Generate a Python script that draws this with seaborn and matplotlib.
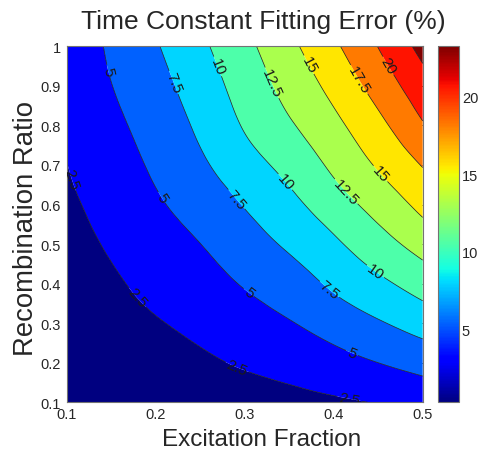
import numpy as np
import matplotlib
matplotlib.use("Agg")
import matplotlib.pyplot as plt
import matplotlib.tri as mtri
from matplotlib.cm import ScalarMappable
import seaborn as sns

# ---------------- data ----------------
excitation_fraction = [0.10, 0.15, 0.20, 0.25, 0.30, 0.35, 0.40, 0.45, 0.50]
recombination_ratio = [0.1, 0.2, 0.3, 0.4, 0.5, 0.6, 0.7, 0.8, 0.9, 1.0]

# fitting error (%) along each recombination-ratio row, one value per excitation fraction
err_r01 = [0.30, 0.55, 0.85, 1.15, 1.50, 1.85, 2.17, 2.62, 3.26]
err_r02 = [0.80, 1.15, 1.60, 2.12, 2.74, 3.31, 4.12, 5.00, 5.89]
err_r03 = [1.20, 1.70, 2.35, 3.07, 3.96, 4.85, 6.06, 7.27, 8.55]
err_r04 = [1.55, 2.20, 3.12, 4.03, 5.18, 6.36, 7.92, 9.46, 11.07]
err_r05 = [1.85, 2.75, 3.90, 4.98, 6.40, 7.87, 9.58, 11.50, 13.46]
err_r06 = [2.15, 3.30, 4.69, 6.03, 7.64, 9.34, 11.34, 13.44, 15.69]
err_r07 = [2.47, 3.85, 5.38, 7.08, 8.99, 10.79, 12.99, 15.27, 17.63]
err_r08 = [2.75, 4.40, 6.02, 7.96, 10.20, 12.21, 14.38, 16.86, 19.78]
err_r09 = [3.00, 4.95, 6.66, 8.73, 11.02, 13.34, 15.73, 18.50, 21.52]
err_r10 = [3.25, 5.35, 7.30, 9.50, 11.84, 14.40, 17.07, 20.06, 23.27]

contour_levels = [2.5, 5, 7.5, 10, 12.5, 15, 17.5, 20, 22.5]
fill_clim = (0.0, 22.5)          # colour range used for the filled bands
x_ticks = [0.1, 0.2, 0.3, 0.4, 0.5]
y_ticks = [0.1, 0.2, 0.3, 0.4, 0.5, 0.6, 0.7, 0.8, 0.9, 1.0]
cbar_ticks = [5, 10, 15, 20]

title_text = "Time Constant Fitting Error (%)"
x_label = "Excitation Fraction"
y_label = "Recombination Ratio"

# where the inline contour labels sit (data coordinates)
label_spots = [
    (0.147, 0.938), (0.216, 0.905), (0.267, 0.947), (0.328, 0.905),
    (0.370, 0.951), (0.426, 0.913), (0.458, 0.947),
    (0.104, 0.665), (0.207, 0.618), (0.291, 0.614), (0.345, 0.656),
    (0.413, 0.631), (0.452, 0.677),
    (0.177, 0.360), (0.302, 0.370), (0.394, 0.382), (0.446, 0.428),
    (0.291, 0.187), (0.420, 0.222), (0.418, 0.108),
]

# ---------------- style ----------------
sns.set_style("white")
plt.rcParams['font.family'] = ['Liberation Sans', 'DejaVu Sans']

Z = np.array([err_r01, err_r02, err_r03, err_r04, err_r05,
              err_r06, err_r07, err_r08, err_r09, err_r10])
X, Y = np.meshgrid(excitation_fraction, recombination_ratio)
ny, nx = Z.shape

# explicit triangles of the rectangular grid
tris = []
for j in range(ny - 1):
    for i in range(nx - 1):
        a = j * nx + i
        b = a + 1
        c = a + nx
        d = c + 1
        tris.append([a, b, d])
        tris.append([a, d, c])
triang = mtri.Triangulation(X.ravel(), Y.ravel(), np.array(tris))
refiner = mtri.UniformTriRefiner(triang)
tri_f, z_f = refiner.refine_field(Z.ravel(), subdiv=4)

vmin, vmax = float(Z.min()), float(Z.max())
cmap = matplotlib.colormaps['jet']
norm = plt.Normalize(vmin, vmax)
fill_norm = plt.Normalize(*fill_clim)

bounds = [min(z_f.min(), vmin) - 0.05] + contour_levels + [max(z_f.max(), vmax) + 0.05]
fill_colors = [cmap(fill_norm(v)) for v in [fill_clim[0]] + contour_levels]

fig = plt.figure(figsize=(4.82, 4.52), dpi=100)
ax = fig.add_axes([66.7 / 482, 1 - 403.3 / 452, 356 / 482, 356 / 452])

ax.tricontourf(tri_f, z_f, levels=bounds, colors=fill_colors, antialiased=True)
cs = ax.tricontour(tri_f, z_f, levels=contour_levels, colors='0.1', linewidths=0.5)
ax.clabel(cs, fmt=lambda v: f"{v:g}", fontsize=11, inline=True,
          inline_spacing=2, manual=label_spots)

ax.set_xlim(0.1, 0.5)
ax.set_ylim(0.1, 1.0)
ax.set_xticks(x_ticks)
ax.set_xticklabels([f"{t:g}" for t in x_ticks])
ax.set_yticks(y_ticks)
ax.set_yticklabels([f"{t:g}" for t in y_ticks])
ax.tick_params(direction='in', top=True, right=True, length=4, width=0.6,
               color='0.25', labelsize=10.5, pad=4)
ax.tick_params(axis='x', pad=3.5)
for sp in ax.spines.values():
    sp.set_color('0.45')
    sp.set_linewidth(0.8)

# colorbar
cax = fig.add_axes([438 / 482, 1 - 403.3 / 452, 21 / 482, 356 / 452])
sm = ScalarMappable(norm=norm, cmap=cmap)
cb = fig.colorbar(sm, cax=cax, ticks=cbar_ticks)
cb.outline.set_edgecolor('0.45')
cb.outline.set_linewidth(0.8)
cax.tick_params(direction='in', left=True, right=True, length=3, width=0.6,
                color='0.25', labelsize=10.5, pad=2)

# texts
fig.text(263.5 / 482, 1 - 29.5 / 452, title_text, fontsize=19,
         ha='center', va='baseline')
fig.text(262 / 482, 1 - 446.5 / 452, x_label, fontsize=17.5,
         ha='center', va='baseline')
fig.text(33 / 482, 1 - 229 / 452, y_label, fontsize=19.8, rotation=90,
         rotation_mode='anchor', ha='center', va='baseline')

fig.savefig("out.png", dpi=100)
